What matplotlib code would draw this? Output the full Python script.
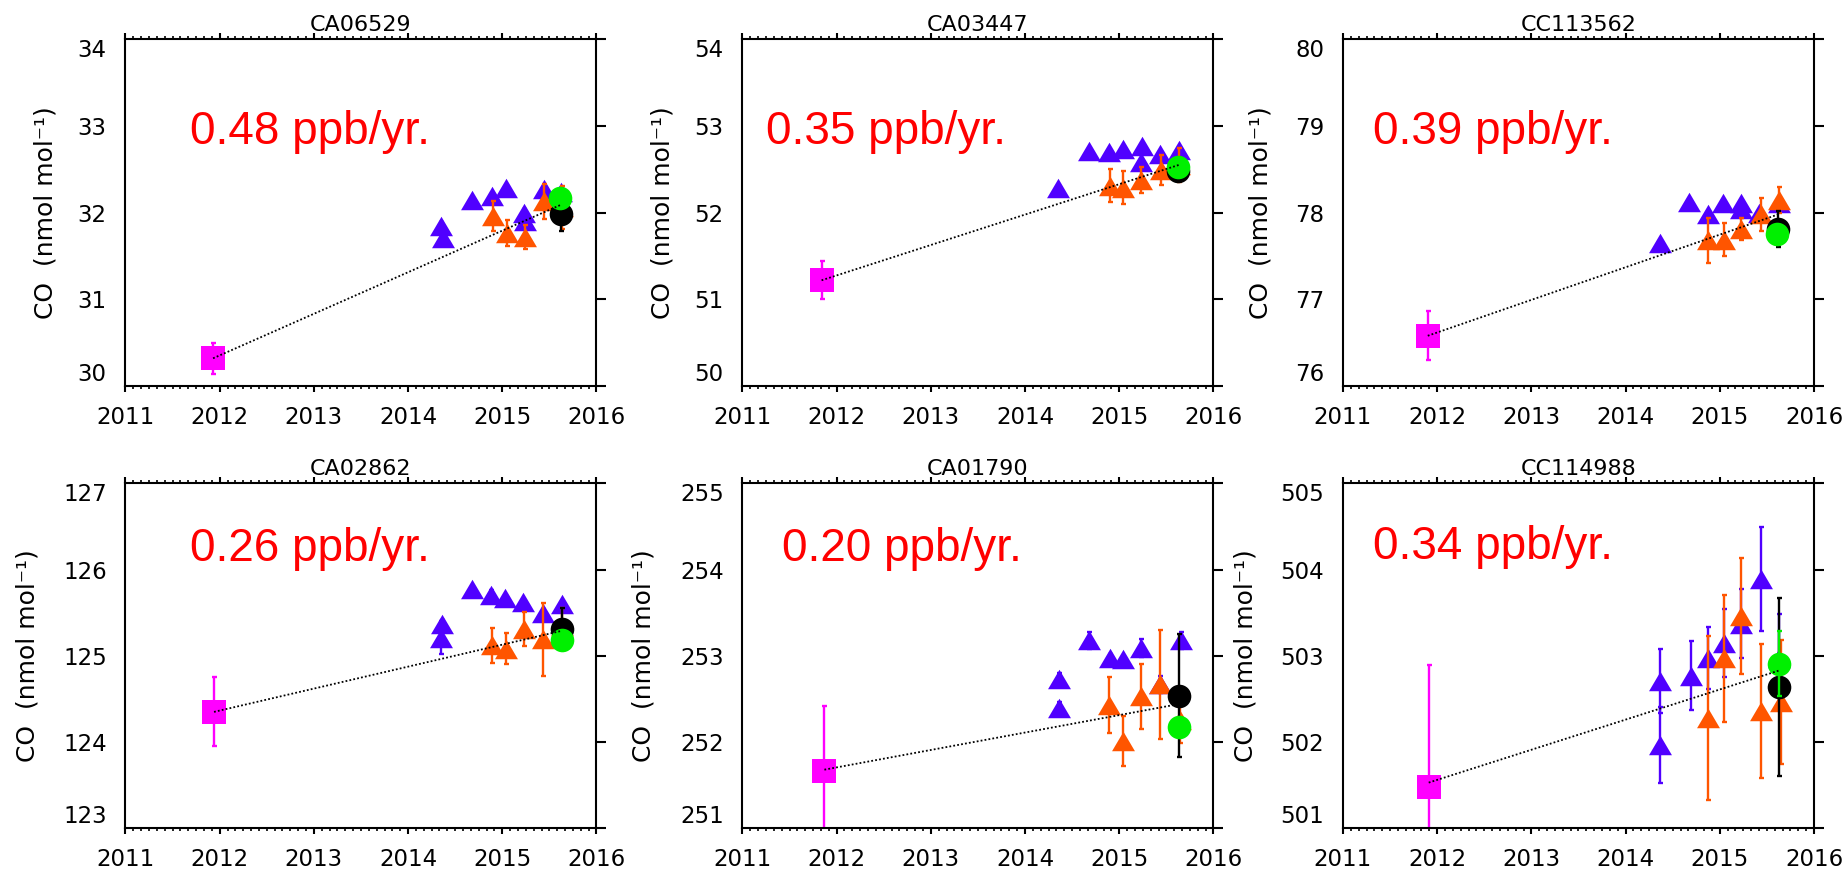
import matplotlib
matplotlib.use('Agg')
import matplotlib.pyplot as plt
from matplotlib.ticker import MultipleLocator, NullLocator

plt.rcParams['font.family'] = ['DejaVu Sans']

# ---- data ----
titles = ['CA06529', 'CA03447', 'CC113562', 'CA02862', 'CA01790', 'CC114988']
rates = ['0.48 ppb/yr.', '0.35 ppb/yr.', '0.39 ppb/yr.',
         '0.26 ppb/yr.', '0.20 ppb/yr.', '0.34 ppb/yr.']
y_low = [30, 50, 76, 123, 251, 501]
y_high = [34, 54, 80, 127, 255, 505]

# magenta square (first calibration)
sq_x = [2011.93, 2011.84, 2011.90, 2011.94, 2011.87, 2011.91]
sq_y = [30.32, 51.22, 76.58, 124.35, 251.67, 501.48]
sq_err = [0.18, 0.22, 0.28, 0.40, 0.75, 1.41]

# blue triangles
blue_x = [
    [2014.35, 2014.37, 2014.68, 2014.89, 2015.04, 2015.23, 2015.24, 2015.44, 2015.62],
    [2014.35, 2014.68, 2014.89, 2015.04, 2015.24, 2015.23, 2015.43, 2015.63],
    [2014.36, 2014.67, 2014.87, 2015.03, 2015.23, 2015.23, 2015.42, 2015.63],
    [2014.36, 2014.35, 2014.68, 2014.88, 2015.03, 2015.22, 2015.43, 2015.63],
    [2014.36, 2014.36, 2014.68, 2014.90, 2015.04, 2015.23, 2015.43, 2015.66],
    [2014.36, 2014.36, 2014.69, 2014.88, 2015.04, 2015.22, 2015.44, 2015.63],
]
blue_y = [
    [31.85, 31.71, 32.15, 32.19, 32.28, 32.00, 31.90, 32.27, 32.24],
    [52.29, 52.71, 52.70, 52.74, 52.77, 52.59, 52.68, 52.72],
    [77.65, 78.12, 77.98, 78.11, 78.11, 78.04, 78.00, 78.11],
    [125.37, 125.21, 125.78, 125.71, 125.67, 125.62, 125.50, 125.60],
    [252.73, 252.39, 253.18, 252.98, 252.96, 253.09, 252.67, 253.18],
    [502.71, 501.97, 502.77, 502.98, 503.15, 503.37, 503.89, 502.98],
]
blue_err = [
    [0.04, 0.04, 0.03, 0.04, 0.03, 0.04, 0.04, 0.03, 0.04],
    [0.03, 0.03, 0.03, 0.03, 0.03, 0.03, 0.03, 0.03],
    [0.03, 0.03, 0.03, 0.03, 0.03, 0.03, 0.03, 0.03],
    [0.04, 0.19, 0.03, 0.05, 0.03, 0.03, 0.04, 0.04],
    [0.07, 0.07, 0.10, 0.04, 0.04, 0.10, 0.10, 0.10],
    [0.37, 0.44, 0.40, 0.36, 0.39, 0.40, 0.60, 0.50],
]

# orange triangles
orange_x = [
    [2014.90, 2015.05, 2015.24, 2015.44, 2015.63],
    [2014.90, 2015.04, 2015.23, 2015.44, 2015.63],
    [2014.88, 2015.04, 2015.23, 2015.44, 2015.63],
    [2014.89, 2015.04, 2015.23, 2015.43, 2015.63],
    [2014.89, 2015.04, 2015.23, 2015.43, 2015.64],
    [2014.88, 2015.04, 2015.23, 2015.44, 2015.65],
]
orange_y = [
    [31.96, 31.77, 31.72, 32.13, 32.06],
    [52.31, 52.29, 52.38, 52.49, 52.55],
    [77.68, 77.69, 77.81, 77.98, 78.15],
    [125.12, 125.08, 125.31, 125.19, 125.35],
    [252.43, 252.01, 252.53, 252.67, 252.26],
    [502.28, 502.97, 503.46, 502.36, 502.46],
]
orange_err = [
    [0.17, 0.15, 0.14, 0.20, 0.25],
    [0.19, 0.19, 0.15, 0.17, 0.20],
    [0.26, 0.19, 0.13, 0.19, 0.15],
    [0.20, 0.18, 0.20, 0.42, 0.20],
    [0.33, 0.29, 0.38, 0.63, 0.27],
    [0.95, 0.74, 0.67, 0.78, 0.72],
]

# black and green circles (latest values)
black_x = [2015.62, 2015.62, 2015.62, 2015.63, 2015.63, 2015.63]
black_y = [31.98, 52.48, 77.81, 125.31, 252.54, 502.64]
black_err = [0.19, 0.08, 0.21, 0.24, 0.71, 1.03]
green_x = [2015.61, 2015.62, 2015.61, 2015.63, 2015.63, 2015.63]
green_y = [32.17, 52.53, 77.75, 125.18, 252.17, 502.91]
green_err = [0.05, 0.05, 0.06, 0.06, 0.06, 0.38]

# dotted trend line end points
fit_x0 = [2011.93, 2011.84, 2011.90, 2011.94, 2011.87, 2011.91]
fit_y0 = [30.32, 51.22, 76.58, 124.35, 251.68, 501.53]
fit_x1 = [2015.62, 2015.63, 2015.62, 2015.63, 2015.63, 2015.63]
fit_y1 = [32.09, 52.55, 77.98, 125.29, 252.44, 502.83]

# ---- layout ----
col_left = [0.068, 0.4024, 0.7279]
row_bottom = [0.5573, 0.0501]
ax_w = 0.2553
ax_h = [0.3976, 0.3956]
rate_pos = [(0.137, 0.698), (0.05, 0.698), (0.064, 0.698),
            (0.137, 0.775), (0.083, 0.775), (0.064, 0.78)]
ylab_x = [-0.145, -0.145, -0.149, -0.183, -0.184, -0.182]

blue = '#5000FF'
orange = '#FF5500'
magenta = '#FF00FF'
green = '#00F000'
tri = [(-1, -0.85), (1, -0.85), (0, 0.85)]

fig = plt.figure(figsize=(18.45, 8.72), dpi=100)

for i in range(6):
    r, c = divmod(i, 3)
    ax = fig.add_axes([col_left[c], row_bottom[r], ax_w, ax_h[r]])

    eb = dict(fmt='none', elinewidth=1.7, capsize=1.8, capthick=1.7)
    ax.errorbar([sq_x[i]], [sq_y[i]], yerr=[sq_err[i]], ecolor=magenta, zorder=2, **eb)
    ax.plot([sq_x[i]], [sq_y[i]], 's', color=magenta, ms=17, mew=0, zorder=2)

    ax.errorbar(blue_x[i], blue_y[i], yerr=blue_err[i], ecolor=blue, zorder=3, **eb)
    ax.plot(blue_x[i], blue_y[i], linestyle='none', marker=tri, color=blue,
            ms=16.5, mew=0, zorder=3)

    ax.errorbar(orange_x[i], orange_y[i], yerr=orange_err[i], ecolor=orange, zorder=4, **eb)
    ax.plot(orange_x[i], orange_y[i], linestyle='none', marker=tri, color=orange,
            ms=16.5, mew=0, zorder=4)

    ax.errorbar([black_x[i]], [black_y[i]], yerr=[black_err[i]], ecolor='black', zorder=5, **eb)
    ax.plot([black_x[i]], [black_y[i]], 'o', color='black', ms=17, mew=0, zorder=5)

    ax.errorbar([green_x[i]], [green_y[i]], yerr=[green_err[i]], ecolor=green, zorder=6, **eb)
    ax.plot([green_x[i]], [green_y[i]], 'o', color=green, ms=17, mew=0, zorder=6)

    ax.plot([fit_x0[i], fit_x1[i]], [fit_y0[i], fit_y1[i]], color='black',
            linestyle=(0, (1, 1.2)), lw=1.3, zorder=7)

    ax.set_xlim(2011, 2016)
    ax.set_ylim(y_low[i], y_high[i])
    ax.set_xticks(range(2011, 2017))
    ax.set_xticklabels([str(v) for v in range(2011, 2017)])
    ax.xaxis.set_minor_locator(MultipleLocator(1 / 12))
    yt = list(range(y_low[i], y_high[i] + 1))
    ax.set_yticks(yt)
    ax.set_yticklabels([str(v) for v in yt])
    ax.yaxis.set_minor_locator(NullLocator())

    for sp in ax.spines.values():
        sp.set_linewidth(1.5)
    ax.tick_params(axis='x', which='major', top=True, bottom=True, direction='out',
                   length=4.5, width=1.5, labelsize=16.5, pad=10)
    ax.tick_params(axis='x', which='minor', top=True, bottom=True, direction='out',
                   length=2.2, width=1.2)
    ax.tick_params(axis='y', which='major', left=False, right=True, direction='out',
                   length=7, width=1.5, labelsize=16.5, pad=6.5)
    labs = ax.get_yticklabels()
    labs[0].set_va('bottom')
    labs[-1].set_va('top')

    ax.set_title(titles[i], fontsize=16, pad=6)
    ax.set_ylabel('CO  (nmol mol⁻¹)', fontsize=18)
    ax.yaxis.set_label_coords(ylab_x[i], 0.5)

    ax.text(rate_pos[i][0], rate_pos[i][1], rates[i], transform=ax.transAxes,
            color='red', fontsize=33, family=['Liberation Sans', 'DejaVu Sans'],
            va='baseline', ha='left')

fig.savefig('out.png', dpi=100)
